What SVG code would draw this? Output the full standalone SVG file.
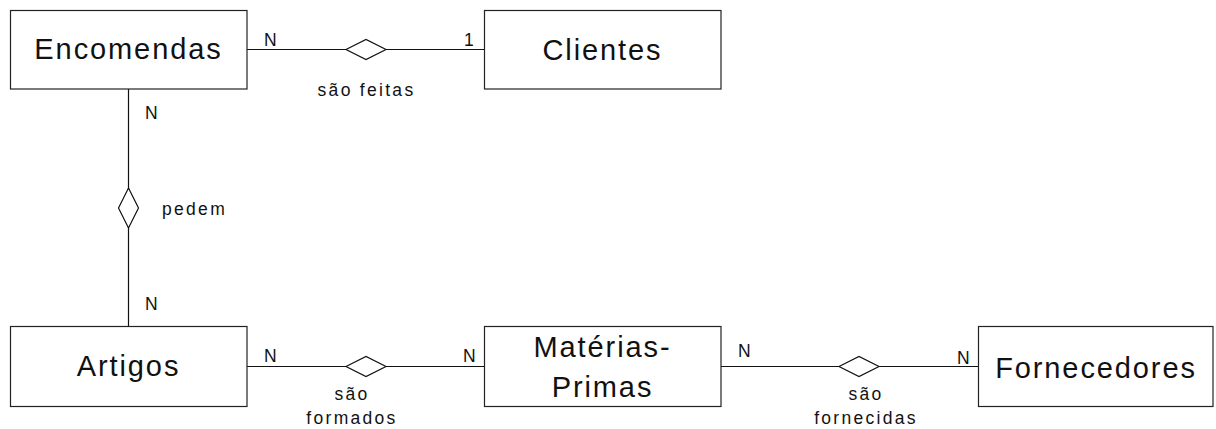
<svg xmlns="http://www.w3.org/2000/svg" width="1216" height="429" viewBox="0 0 1216 429">
<style>
.box{fill:#fff;stroke:#222;stroke-width:1.2}
.ln{fill:none;stroke:#111;stroke-width:1.2}
.dia{fill:#fff;stroke:#111;stroke-width:1.2}
.ent{font-family:"Liberation Sans",Arial,sans-serif;font-size:29px;letter-spacing:1.9px;fill:#111;text-anchor:middle}
.lbl{font-family:"Liberation Sans",Arial,sans-serif;font-size:17.5px;letter-spacing:2.3px;fill:#111}
.mid{text-anchor:middle}
.end{text-anchor:end}
</style>
<rect width="1216" height="429" fill="#fff"/>
<g id="connectors">
  <line class="ln" x1="247" y1="49.5" x2="484" y2="49.5"/>
  <polygon class="dia" points="346,49.5 366,39.5 386,49.5 366,59.5"/>
  <line class="ln" x1="128.5" y1="89" x2="128.5" y2="326.5"/>
  <polygon class="dia" points="128.5,188 138.5,208 128.5,228 118.5,208"/>
  <line class="ln" x1="247" y1="366.5" x2="484" y2="366.5"/>
  <polygon class="dia" points="346,366.5 366,356.5 386,366.5 366,376.5"/>
  <line class="ln" x1="721" y1="366.5" x2="978" y2="366.5"/>
  <polygon class="dia" points="839,366.5 859,356.5 879,366.5 859,376.5"/>
  <text class="lbl" x="264" y="46">N</text>
  <text class="lbl end" x="476" y="46">1</text>
  <text class="lbl mid" x="366.5" y="96">são feitas</text>
  <text class="lbl" x="145" y="119">N</text>
  <text class="lbl" x="162" y="215">pedem</text>
  <text class="lbl" x="145" y="310">N</text>
  <text class="lbl" x="264" y="362">N</text>
  <text class="lbl end" x="478" y="362">N</text>
  <text class="lbl mid" x="352" y="400">são</text>
  <text class="lbl mid" x="352" y="424">formados</text>
  <text class="lbl" x="738" y="357">N</text>
  <text class="lbl" x="957" y="364">N</text>
  <text class="lbl mid" x="866" y="400">são</text>
  <text class="lbl mid" x="866" y="424">fornecidas</text>
</g>
<g id="encomendas">
  <rect class="box" x="10.5" y="10.5" width="236.5" height="78.5"/>
  <text class="ent" x="128.5" y="59.3">Encomendas</text>
</g>
<g id="clientes">
  <rect class="box" x="484.5" y="10.5" width="236.5" height="78.5"/>
  <text class="ent" x="602.5" y="60">Clientes</text>
</g>
<g id="artigos">
  <rect class="box" x="10.5" y="326.5" width="236.5" height="80"/>
  <text class="ent" x="128.5" y="376">Artigos</text>
</g>
<g id="materias-primas">
  <rect class="box" x="484.5" y="326.5" width="236.5" height="80"/>
  <text class="ent" x="602.5" y="356.7">Matérias-</text>
  <text class="ent" x="602.5" y="396.7">Primas</text>
</g>
<g id="fornecedores">
  <rect class="box" x="978.5" y="326.5" width="234.5" height="80"/>
  <text class="ent" x="1096" y="377.7">Fornecedores</text>
</g>
</svg>
